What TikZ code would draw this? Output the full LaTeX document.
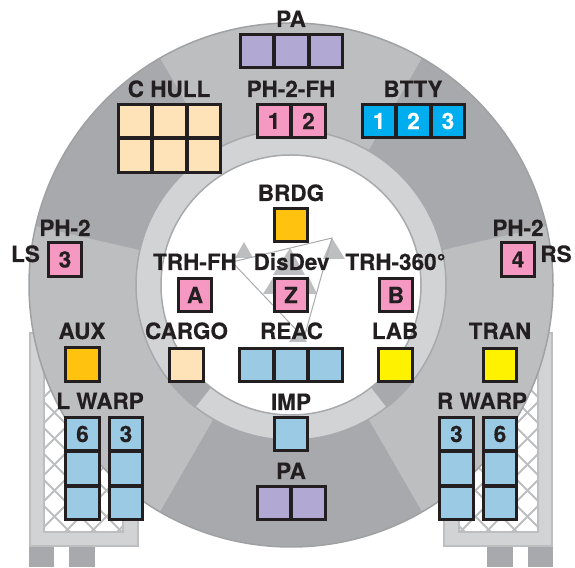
\documentclass[tikz,border=0pt]{standalone}
\usepackage{fontspec}
\setmainfont[BoldFeatures={FakeBold=0.25}]{TeX Gyre Heros}
\definecolor{inkdark}{RGB}{35,31,32}
\definecolor{sectorlight}{RGB}{188,190,192}
\definecolor{sectordark}{RGB}{167,169,172}
\definecolor{ringgray}{RGB}{209,211,212}
\definecolor{phaserpink}{RGB}{245,153,194}
\definecolor{palilac}{RGB}{177,169,211}
\definecolor{hullpeach}{RGB}{255,227,184}
\definecolor{warpblue}{RGB}{155,203,228}
\definecolor{bridgegold}{RGB}{255,194,14}
\definecolor{labyellow}{RGB}{255,242,0}
\definecolor{battcyan}{RGB}{0,174,239}
\usetikzlibrary{positioning}

\begin{document}
\begin{tikzpicture}[
  x=1pt, y=1pt,
  cell/.style={draw=inkdark, line width=2.8pt, minimum size=33.5pt, inner sep=0pt,
               outer sep=0pt, text=inkdark, font=\fontsize{22.5}{24}\selectfont\bfseries},
  lab/.style={anchor=base, inner sep=0pt, text=inkdark, yshift=-1pt,
              font=\fontsize{22.5}{24}\selectfont\bfseries},
  frameline/.style={draw=sectorlight, line width=1.8pt},
  tickmark/.style={fill=sectorlight},
  pylon/.pic={
    \fill[sectordark] (29,0) rectangle (54,21);
    \fill[sectordark] (69,0) rectangle (95,21);
    \draw[frameline, fill=ringgray] (30,21) rectangle (138,234);
    \draw[frameline, fill=white] (44,35) rectangle (123,195);
    \begin{scope}
      \clip (44,35) rectangle (123,195);
      \foreach \k in {-8,...,8} {
        \draw[frameline] (0,48+26*\k) -- (200,248+26*\k);
        \draw[frameline] (0,105+26*\k) -- (200,-95+26*\k);
      }
    \end{scope}
  }
]
  \useasboundingbox (0,0) rectangle (575,567);

  % Pylons
  \pic at (0,0) {pylon};
  \pic[xscale=-1] at (582,0) {pylon};

  % Saucer
  \begin{scope}[shift={(291,282)}]
    \fill[sectorlight] (0,0) circle (262);
    \fill[sectordark] (0,0) -- (120:262) arc (120:167:262) -- cycle;
    \fill[sectordark] (0,0) -- (13:262) arc (13:60:262) -- cycle;
    \fill[sectordark] (0,0) -- (240:262) arc (240:300:262) -- cycle;
    \draw[sectorlight!85!black, line width=1.5pt] (0,0) circle (262);
    \draw[sectordark, line width=1.5pt, fill=ringgray] (0,0) circle (155);
    \fill[sectordark] (218:130) -- (218:156) arc (218:232:156) -- (232:130) -- cycle;
    \fill[sectordark] (308:130) -- (308:156) arc (308:322:156) -- (322:130) -- cycle;
    \draw[sectordark, line width=1.5pt, fill=white] (0,0) circle (130);
  \end{scope}

  % Gray marks in the middle
  \fill[tickmark] (244,325) -- (235,309) -- (253,309) -- cycle;
  \fill[tickmark] (332,329) -- (323,308) -- (345,308) -- cycle;
  \fill[tickmark] (290,319) -- (273,292) -- (305,292) -- cycle;
  \fill[tickmark] (273,289) -- (263,273) -- (283,273) -- cycle;
  \fill[tickmark] (309,289) -- (299,273) -- (317,273) -- cycle;
  \fill[tickmark] (298,239) -- (289,225) -- (307,225) -- cycle;
  \coordinate (tipr) at (332,329);
  \coordinate (tipl) at (232,305);
  \coordinate (tipb) at (304,229);
  \draw[sectorlight!90!black, line width=1pt] (tipr) -- (tipl) -- (tipb) -- cycle;

  % PA
  \foreach \nm/\x in {pat1/257, pat2/291.5, pat3/326}
    \node[cell, fill=palilac] (\nm) at (\x,516) {};
  \foreach \nm/\x in {pab1/274, pab2/308.5}
    \node[cell, fill=palilac] (\nm) at (\x,64) {};

  % C HULL
  \foreach \nm/\x in {a/135, b/169.5, c/204} {
    \node[cell, fill=hullpeach] (hull\nm1) at (\x,446) {};
    \node[cell, fill=hullpeach] (hull\nm2) at (\x,411.5) {};
  }

  % Phasers
  \node[cell, fill=phaserpink] (fh1) at (274,446) {1};
  \node[cell, fill=phaserpink] (fh2) at (308.5,446) {2};
  \node[cell, fill=phaserpink] (ls3) at (65,307.5) {3};
  \node[cell, fill=phaserpink] (rs4) at (518,307.5) {4};
  \node[cell, fill=phaserpink] (trha) at (195,272) {A};
  \node[cell, fill=phaserpink] (disz) at (291,272) {Z};
  \node[cell, fill=phaserpink] (trhb) at (396,272) {B};

  % BTTY
  \foreach \nm/\x/\n in {btty1/379/1, btty2/413.5/2, btty3/448/3}
    \node[cell, fill=battcyan, text=white] (\nm) at (\x,446) {\n};

  % Single boxes
  \node[cell, fill=bridgegold] (brdg) at (291,342) {};
  \node[cell, fill=bridgegold] (aux) at (82.5,202.5) {};
  \node[cell, fill=hullpeach] (cargo) at (186.5,202) {};
  \node[cell, fill=labyellow] (labbox) at (395.5,202) {};
  \node[cell, fill=labyellow] (tran) at (500,202) {};
  \node[cell, fill=warpblue] (imp) at (291,133) {};

  % REAC
  \foreach \nm/\x in {reac1/256.5, reac2/291, reac3/325.5}
    \node[cell, fill=warpblue] (\nm) at (\x,202) {};

  % Warp columns
  \foreach \nm/\x/\n in {lwa/82.5/6, lwb/126/3, rwa/456.5/3, rwb/500/6} {
    \node[cell, fill=warpblue] (\nm1) at (\x,133) {\n};
    \node[cell, fill=warpblue] (\nm2) at (\x,98.5) {};
    \node[cell, fill=warpblue] (\nm3) at (\x,64) {};
  }

  % Labels
  \node[lab] (tpa) at (291,541) {PA};
  \node[lab] (thull) at (169,471) {C HULL};
  \node[lab] (tfh) at (291,471) {PH-2-FH};
  \node[lab] (tbtty) at (413,471) {BTTY};
  \node[lab] (tbrdg) at (291,367) {BRDG};
  \node[lab] (tphl) at (65,332) {PH-2};
  \node[lab] (tphr) at (518,332) {PH-2};
  \node[lab] (tls) at (25.5,306) {LS};
  \node[lab] (trs) at (556,306) {RS};
  \node[lab] (ttrha) at (195,298) {TRH-FH};
  \node[lab] (tdis) at (291.5,298) {DisDev};
  \node[lab] (ttrhb) at (395.5,298) {TRH-360°};
  \node[lab] (taux) at (82,229) {AUX};
  \node[lab] (tcargo) at (186.5,229) {CARGO};
  \node[lab] (treac) at (291.5,229) {REAC};
  \node[lab] (tlab) at (395,229) {LAB};
  \node[lab] (ttran) at (500,229) {TRAN};
  \node[lab] (tlw) at (100,159) {L WARP};
  \node[lab] (trw) at (482,159) {R WARP};
  \node[lab] (timp) at (291,158) {IMP};
  \node[lab] (tpab) at (291,89) {PA};
\end{tikzpicture}
\end{document}
